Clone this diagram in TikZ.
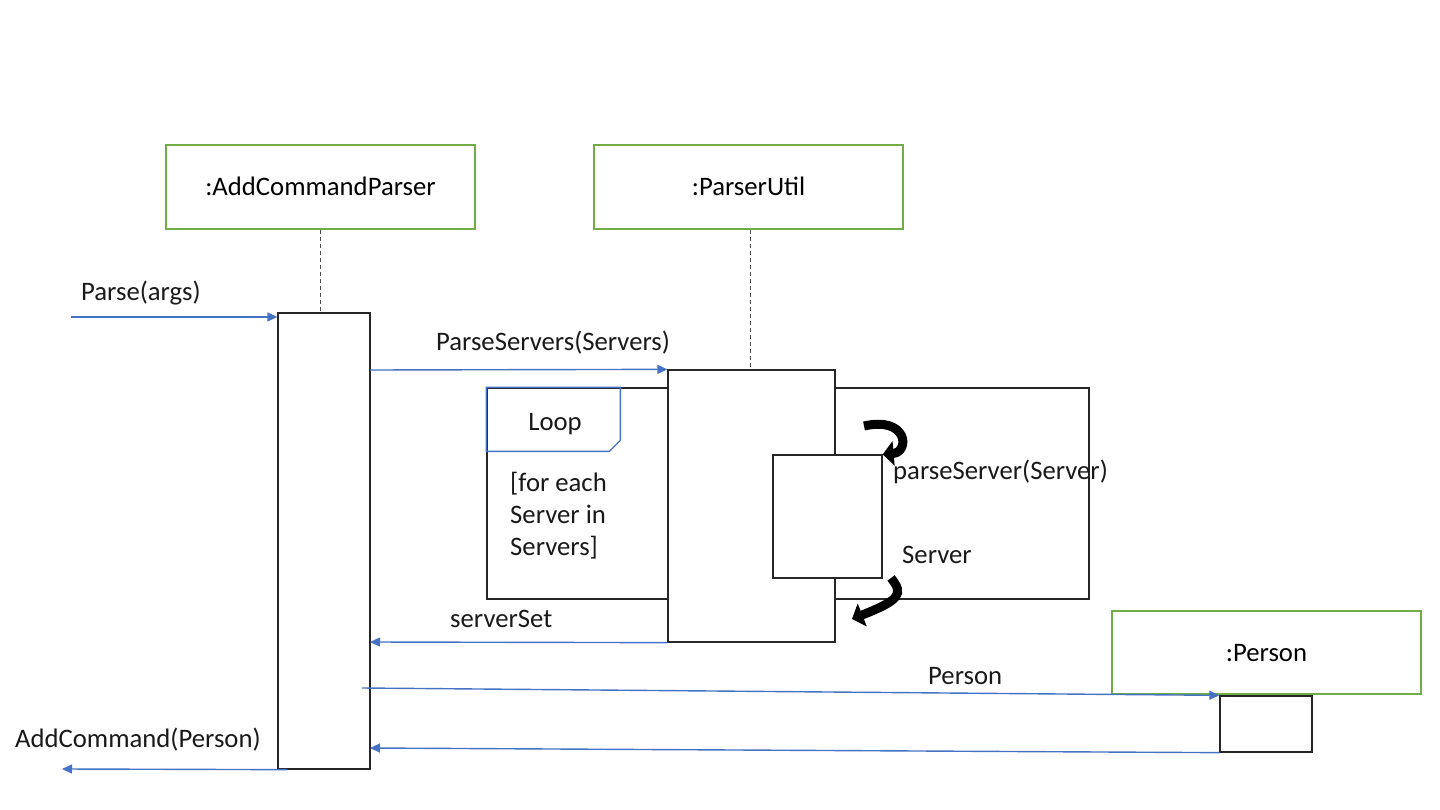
\documentclass[tikz,border=0pt]{standalone}
\usepackage{fontspec}
\setmainfont{Carlito}
\usetikzlibrary{arrows.meta,calc}
\definecolor{objgreen}{HTML}{70AD47}
\definecolor{msgblue}{HTML}{4472C4}
\tikzset{
  every node/.style={font=\fontsize{26.7pt}{32pt}\selectfont, inner sep=0pt},
  objbox/.style={draw=objgreen, line width=1.3pt, fill=white, minimum width=309pt, minimum height=84pt, text height=17.2pt, text depth=0pt},
  actbox/.style={draw=black!85, line width=1.3pt, fill=white},
  frame/.style={draw=black!85, line width=1.3pt},
  tagline/.style={draw=msgblue, line width=1.3pt},
  lifeline/.style={draw=black!70, line width=1pt, dash pattern=on 4pt off 3pt},
  msg/.style={draw=msgblue, line width=1.4pt, -{Triangle[length=10pt,width=9pt]}},
  selfarrow/.style={draw=black, line width=9pt, -{Triangle[length=11pt,width=24pt]}},
  lbl/.style={anchor=base west, text=black!90},
}
\begin{document}
\begin{tikzpicture}[x=1pt,y=-1pt]
\useasboundingbox (0,0) rectangle (1440,810);

% object boxes
\node[objbox] (acp) at (320.5,187) {:AddCommandParser};
\node[objbox] (pu) at (748.5,187) {:ParserUtil};
\node[objbox, minimum height=83pt] (per) at (1266.5,652.5) {:Person};

% loop frame
\node[frame, minimum width=602pt, minimum height=211pt] (loop) at (788,493.5) {};
\draw[tagline] (loop.north west) -- ++(134,0) -- ++(0,53) -- ++(-11,11) -- ++(-123,0) -- cycle;
\node[anchor=base, text=black!90] (looplbl) at (555,430) {Loop};
\node[lbl] (g1) at (510,491) {[for each};
\node[lbl] (g2) at (510,523) {Server in};
\node[lbl] (g3) at (510,555) {Servers]};

% activations
\node[actbox, minimum width=92pt, minimum height=456pt] (a1) at (324,541) {};
\node[actbox, minimum width=167pt, minimum height=272pt] (a2) at (751.5,506) {};
\node[actbox, minimum width=109pt, minimum height=123pt] (a3) at (827.5,516.5) {};
\node[actbox, minimum width=92pt, minimum height=56pt] (a4) at (1266,724) {};

% lifelines
\draw[lifeline] (acp.south) -- (acp.south |- a1.north);
\draw[lifeline] (pu.south) ++(1.5,0) coordinate (pl) -- (pl |- a2.north);

% messages
\coordinate (p0) at (71,317);
\draw[msg] (p0) -- (p0 -| a1.west);
\node[lbl] (l1) at (81,301) {Parse(args)};

\coordinate (ps0) at (370,370);
\draw[msg] (ps0) -- (a2.north west);
\node[anchor=base, text=black!90] (l2) at (553,350) {ParseServers(Servers)};

\coordinate (ss1) at (370,642);
\draw[msg] (a2.south west) -- (ss1);
\node[lbl] (l3) at (450,627) {serverSet};

\coordinate (q0) at (362,688);
\draw[msg] (q0) -- (a4.north west);
\node[lbl] (l4) at (928,684) {Person};

\coordinate (r1) at (370,748);
\draw[msg] (a4.south west) -- (r1);

\coordinate (ac0) at (62,769);
\draw[msg] ($(a1.south west)+(10,0)$) -- (ac0);
\node[lbl] (l5) at (15,747) {AddCommand(Person)};

% self call
\coordinate (sc1) at (864,426);
\draw[selfarrow] (sc1) .. controls (908,416) and (910,452) .. (a3.north east);
\node[lbl] (l6) at (893,479) {parseServer(Server)};

\coordinate (sr0) at (891,578);
\coordinate (sr1) at (852,619);
\draw[selfarrow] (sr0) .. controls (904,594) and (900,600) .. (sr1);
\node[lbl] (l7) at (902,563) {Server};
\end{tikzpicture}
\end{document}
